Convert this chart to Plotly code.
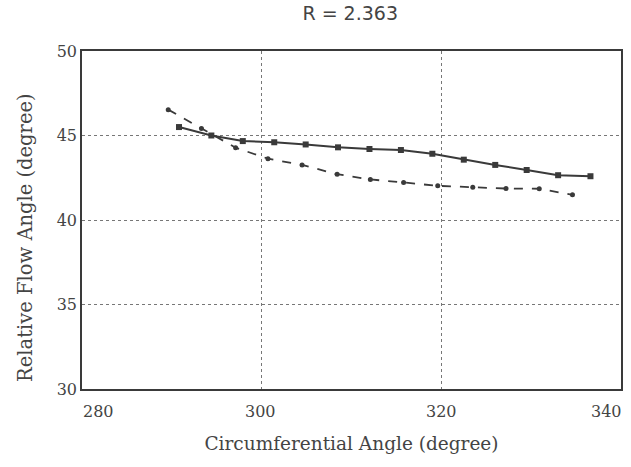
import plotly.graph_objects as go

# Relative flow angle vs circumferential angle at R = 2.363
solid_x = [290.8, 294.4, 297.9, 301.4, 304.9, 308.5, 312.0, 315.5, 319.0, 322.5, 326.0, 329.5, 333.0, 336.6]
solid_y = [45.5, 45.0, 44.67, 44.6, 44.47, 44.3, 44.2, 44.14, 43.92, 43.57, 43.26, 42.96, 42.65, 42.59]

dashed_x = [289.6, 293.3, 297.1, 300.7, 304.5, 308.4, 312.1, 315.8, 319.6, 323.5, 327.2, 330.9, 334.6]
dashed_y = [46.53, 45.41, 44.28, 43.63, 43.26, 42.71, 42.4, 42.22, 42.02, 41.94, 41.86, 41.85, 41.49]

x_ticks = [280, 300, 320, 340]
x_tick_shift = [16, -1, 0, -15]   # end labels sit inside the frame
y_ticks = [30, 35, 40, 45, 50]

ink = "#3a3a3a"
text_col = "#444444"
serif = "DejaVu Serif, serif"

fig = go.Figure()
fig.add_trace(go.Scatter(
    x=solid_x, y=solid_y, mode="lines+markers",
    line=dict(color=ink, width=2),
    marker=dict(symbol="square", size=6, color=ink),
    showlegend=False,
))
fig.add_trace(go.Scatter(
    x=dashed_x, y=dashed_y, mode="lines+markers",
    line=dict(color=ink, width=1.8, dash="dash"),
    marker=dict(symbol="circle", size=5, color=ink),
    showlegend=False,
))

axis_common = dict(
    showline=True, linecolor=ink, linewidth=1.5, mirror=True,
    showgrid=True, gridcolor="#777777", griddash="dot", gridwidth=1,
    zeroline=False, ticks="", automargin=False,
    tickfont=dict(family=serif, size=16, color=text_col),
)

fig.update_xaxes(range=[280, 340], tickvals=x_ticks, showticklabels=False,
                 title_text="Circumferential Angle (degree)", title_standoff=47,
                 title_font=dict(family=serif, size=18.5, color=text_col),
                 **axis_common)
fig.update_yaxes(range=[30, 50], tickvals=y_ticks,
                 **axis_common)

# x tick labels
for v, s in zip(x_ticks, x_tick_shift):
    fig.add_annotation(x=v, xref="x", y=0, yref="paper", yanchor="top",
                       xanchor="center", xshift=s, yshift=-11, showarrow=False,
                       text=str(v), font=dict(family=serif, size=16, color=text_col))

# y axis title
fig.add_annotation(x=0, xref="paper", y=0.447, yref="paper", xanchor="center",
                   yanchor="middle", xshift=-56, textangle=-90, showarrow=False,
                   text="Relative Flow Angle (degree)",
                   font=dict(family=serif, size=19.5, color=text_col))

fig.update_layout(
    width=631, height=467,
    margin=dict(l=82, r=10, t=51, b=78),
    paper_bgcolor="white", plot_bgcolor="white",
    title=dict(text="R = 2.363", x=0.555, xanchor="center", y=0.985, yanchor="top",
               font=dict(family="DejaVu Sans, sans-serif", size=19, color=text_col)),
)

fig.write_html("out.html")
